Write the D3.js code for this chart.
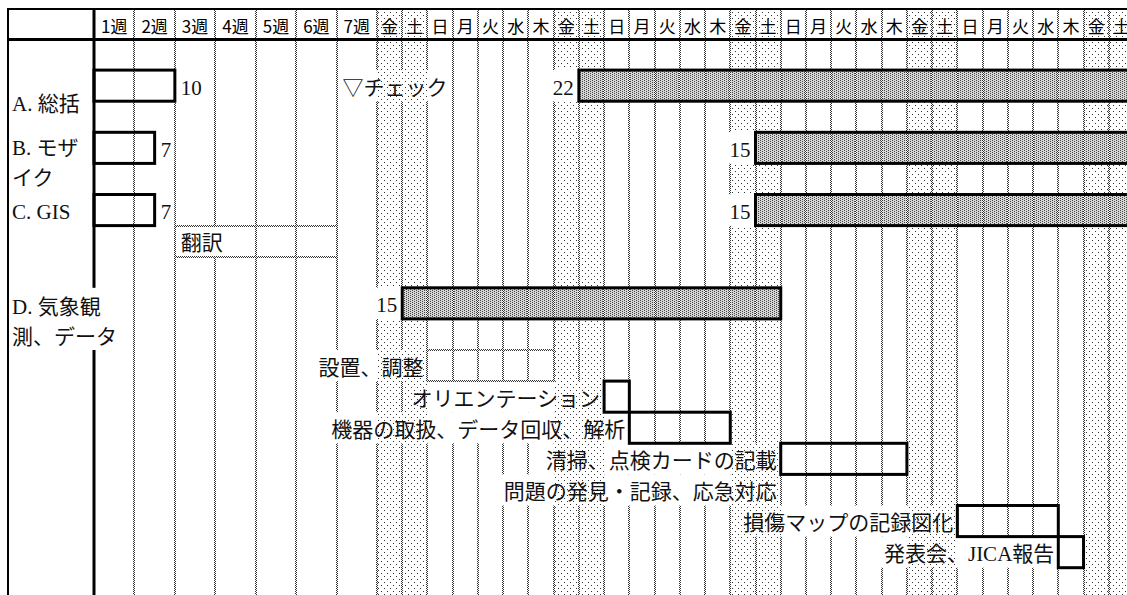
<!DOCTYPE html>
<html><head><meta charset="utf-8">
<script src="https://cdn.jsdelivr.net/npm/d3@7"></script>
<style>
html,body{margin:0;padding:0;background:#fff;}
svg{display:block;}
</style></head><body>
<svg id="chart" width="1127" height="595"></svg>
<script>
// ---------- data ----------
const weekLabels = ["1週","2週","3週","4週","5週","6週","7週"];
const dayLabels = ["金","土","日","月","火","水","木","金","土","日","月","火","水","木",
                   "金","土","日","月","火","水","木","金","土","日","月","火","水","木","金","土"];
const weekendDays = ["金","土"];

// left label column (row index units)
const groupNames = [["A. 総括"],["B. モザ","イク"],["C. GIS"],["D. 気象観","測、データ"]];
const groupRows  = [2.1, 4, 5.55, 9.1];

// main bars (column units: 0-7 = weeks, 7-37 = days)
const barRows  = [1, 3, 5, 1, 3, 5, 8];
const barStart = [0, 0, 0, 15, 22, 22, 8];
const barEnd   = [2, 1.5, 1.5, 37, 37, 37, 23];
const barKind  = ["準備","準備","準備","本作業","本作業","本作業","本作業"];
const barDates = ["10","7","7","22","15","15","15"];

// sub activities
const actNames = ["設置、調整","オリエンテーション","機器の取扱、データ回収、解析",
                  "清掃、点検カードの記載","問題の発見・記録、応急対応","損傷マップの記録図化","発表会、JICA報告"];
const actRows  = [10, 11, 12, 13, 14, 15, 16];
const actStart = [9, 16, 17, 23, 23, 30, 34];
const actEnd   = [14, 17, 21, 28, null, 34, 35];
const actKind  = ["予定","確定","確定","確定","なし","確定","確定"];

// notes
const noteTexts = ["翻訳","▽チェック"];
const noteRows  = [6, 1];
const noteStart = [2, 6];
const noteEnd   = [6, null];

// ---------- setup ----------
const W = 1127, H = 595, TOP = 9;
const svg = d3.select("#chart");
const x = d3.scaleLinear().domain([0, 7, 37]).range([94, 377, 1134]);
const y = d3.scaleLinear().domain([0, 18]).range([39, 39 + 18 * 31.1]);
const bodyFont = "'Liberation Serif','Noto Sans CJK JP',serif";
const headFont = "'Noto Sans CJK JP',sans-serif";

const cols = weekLabels.map((l, i) => ({label: l, i, weekend: false}))
  .concat(dayLabels.map((l, j) => ({label: l, i: 7 + j, weekend: weekendDays.includes(l)})));

const defs = svg.append("defs");
function pattern(id, w, h, bg, dots, col) {
  const p = defs.append("pattern").attr("id", id).attr("patternUnits", "userSpaceOnUse")
    .attr("width", w).attr("height", h);
  if (bg) p.append("rect").attr("width", w).attr("height", h).attr("fill", bg);
  dots.forEach(d => p.append("rect").attr("x", d[0]).attr("y", d[1]).attr("width", 1).attr("height", 1).attr("fill", col));
}
pattern("wk", 6, 6, "#fff", [[0,0],[3,3]], "#333");
pattern("dense", 4, 2, "#d6d6d6", [[0,0],[2,1]], "#444");
pattern("chk", 2, 2, "#fff", [[0,0],[1,1]], "#333");

const mask = defs.append("mask").attr("id", "txtmask").attr("maskUnits", "userSpaceOnUse")
  .attr("x", 0).attr("y", 0).attr("width", W).attr("height", H);
mask.append("rect").attr("width", W).attr("height", H).attr("fill", "#fff");

svg.append("rect").attr("width", W).attr("height", H).attr("fill", "#fff");

// weekend columns
svg.append("g").selectAll("rect").data(cols.filter(c => c.weekend)).join("rect")
  .attr("x", c => Math.round(x(c.i))).attr("width", c => Math.round(x(c.i + 1)) - Math.round(x(c.i)))
  .attr("y", TOP).attr("height", H - TOP).attr("fill", "url(#wk)");

// white cells for date numbers before day bars
const bars = barRows.map((r, k) => ({row: r, s: barStart[k], e: barEnd[k], kind: barKind[k], date: barDates[k]}));
const dayBars = bars.filter(b => b.s >= 7);
svg.append("g").selectAll("rect").data(dayBars).join("rect")
  .attr("x", b => Math.round(x(b.s - 1)) - 1).attr("width", b => Math.round(x(b.s)) - Math.round(x(b.s - 1)) + 1)
  .attr("y", b => y(b.row) - 1).attr("height", b => y(b.row + 1) - y(b.row) + 2).attr("fill", "#fff");
dayBars.forEach(b => mask.append("rect").attr("x", Math.round(x(b.s - 1)) - 2)
  .attr("width", Math.round(x(b.s)) - Math.round(x(b.s - 1)) + 1)
  .attr("y", y(b.row)).attr("height", y(b.row + 1) - y(b.row)).attr("fill", "#000"));

// dense bar fills
svg.append("g").selectAll("rect").data(bars.filter(b => b.kind === "本作業")).join("rect")
  .attr("x", b => x(b.s)).attr("width", b => x(b.e) - x(b.s))
  .attr("y", b => y(b.row)).attr("height", b => y(b.row + 1) - y(b.row)).attr("fill", "url(#dense)");

// grid lines (masked by texts)
const grid = svg.append("g").attr("mask", "url(#txtmask)");
grid.selectAll("rect.v").data(d3.range(1, 37)).join("rect").attr("class", "v")
  .attr("x", i => Math.round(x(i)) - 1).attr("width", 2)
  .attr("y", TOP + 1).attr("height", H - TOP).attr("fill", "url(#chk)");
grid.append("rect").attr("x", x(0) - 1.5).attr("width", 3).attr("y", TOP).attr("height", H - TOP).attr("fill", "#000");

// dotted boxes
const dotted = [];
noteTexts.forEach((t, k) => { if (noteEnd[k] != null) dotted.push({row: noteRows[k], s: noteStart[k], e: noteEnd[k]}); });
actNames.forEach((t, k) => { if (actKind[k] === "予定") dotted.push({row: actRows[k], s: actStart[k], e: actEnd[k]}); });
const dg = svg.append("g");
dotted.forEach(b => {
  const x0 = Math.round(x(b.s)) - 1, x1 = Math.round(x(b.e)) - 1;
  const y0 = Math.round(y(b.row)) - 1, y1 = Math.round(y(b.row + 1)) - 1;
  dg.append("rect").attr("x", x0).attr("y", y0).attr("width", x1 - x0 + 2).attr("height", 2).attr("fill", "url(#chk)");
  dg.append("rect").attr("x", x0).attr("y", y1).attr("width", x1 - x0 + 2).attr("height", 2).attr("fill", "url(#chk)");
  dg.append("rect").attr("x", x0).attr("y", y0).attr("width", 2).attr("height", y1 - y0 + 2).attr("fill", "url(#chk)");
  dg.append("rect").attr("x", x1).attr("y", y0).attr("width", 2).attr("height", y1 - y0 + 2).attr("fill", "url(#chk)");
});

// thick outlined bars
const acts = actNames.map((t, k) => ({name: t, row: actRows[k], s: actStart[k], e: actEnd[k], kind: actKind[k]}));
const outlined = bars.map(b => ({row: b.row, s: b.s, e: b.e}))
  .concat(acts.filter(a => a.kind === "確定").map(a => ({row: a.row, s: a.s, e: a.e})));
svg.append("g").selectAll("rect").data(outlined).join("rect")
  .attr("x", b => x(b.s)).attr("width", b => x(b.e) - x(b.s))
  .attr("y", b => y(b.row)).attr("height", b => y(b.row + 1) - y(b.row))
  .attr("fill", "none").attr("stroke", "#000").attr("stroke-width", 3);

// frame
svg.append("rect").attr("x", 7).attr("y", TOP - 1).attr("width", W).attr("height", 2).attr("fill", "#000");
svg.append("rect").attr("x", 7).attr("y", 38).attr("width", W).attr("height", 3).attr("fill", "#000");
svg.append("rect").attr("x", 7).attr("y", TOP - 1).attr("width", 2).attr("height", H).attr("fill", "#000");

// header text
svg.append("g").selectAll("text").data(cols).join("text")
  .attr("x", c => (x(c.i) + x(c.i + 1)) / 2).attr("y", 25)
  .attr("text-anchor", "middle").attr("dominant-baseline", "central")
  .attr("font-family", headFont).attr("font-size", 17).attr("fill", "#000")
  .text(c => c.label);

// body texts
const tg = svg.append("g").attr("font-family", bodyFont).attr("font-size", 21).attr("fill", "#111");
const rowC = r => y(r + 0.5) + 2;

groupNames.forEach((lines, k) => {
  lines.forEach((ln, j) => {
    tg.append("text").attr("class", "m").attr("x", 12)
      .attr("y", y(groupRows[k]) + (j - (lines.length - 1) / 2) * 30)
      .attr("dominant-baseline", "central").text(ln);
  });
});
bars.forEach(b => {
  const t = tg.append("text").attr("class", "m").attr("y", rowC(b.row)).attr("dominant-baseline", "central").text(b.date);
  if (b.s >= 7) t.attr("x", x(b.s) - 5).attr("text-anchor", "end");
  else t.attr("x", x(b.e) + 6).attr("text-anchor", "start");
});
acts.forEach(a => {
  tg.append("text").attr("class", "m").attr("x", x(a.s) - 4).attr("y", rowC(a.row))
    .attr("text-anchor", "end").attr("dominant-baseline", "central").text(a.name);
});
noteTexts.forEach((t, k) => {
  tg.append("text").attr("class", "m").attr("x", x(noteStart[k]) + 6).attr("y", rowC(noteRows[k]))
    .attr("text-anchor", "start").attr("dominant-baseline", "central").text(t);
});

// text masks over grid lines
tg.selectAll("text.m").each(function () {
  const b = this.getBBox();
  const cy = b.y + b.height / 2;
  const band = Math.floor(y.invert(cy));
  mask.append("rect").attr("x", b.x - 3).attr("width", b.width + 6)
    .attr("y", y(band)).attr("height", y(band + 1) - y(band)).attr("fill", "#000");
});
</script>
</body></html>
